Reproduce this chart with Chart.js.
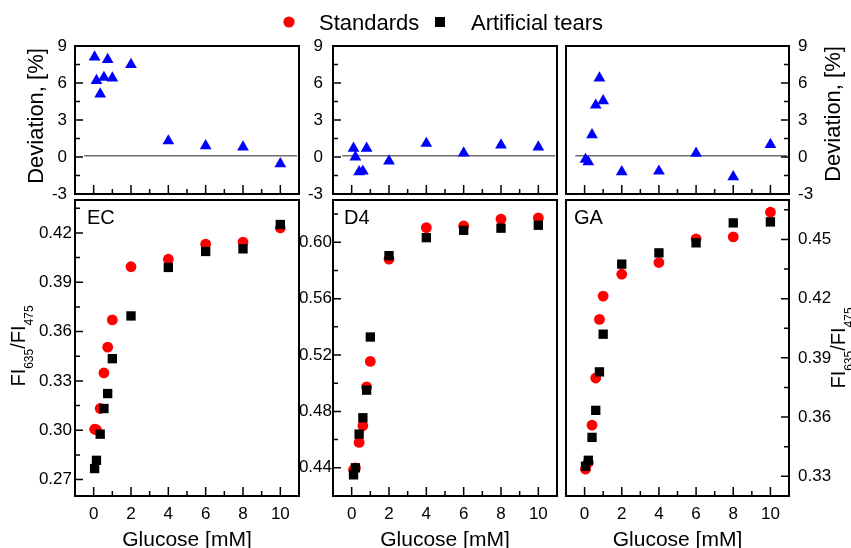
<!DOCTYPE html>
<html>
<head>
<meta charset="utf-8">
<title>Glucose calibration: EC, D4, GA</title>
<script src="https://cdn.jsdelivr.net/npm/chart.js@4.4.1/dist/chart.umd.min.js"></script>
<style>
  html, body { margin: 0; padding: 0; background: #fff; }
  #wrap { position: relative; width: 851px; height: 548px; overflow: hidden; }
  #wrap canvas { position: absolute; left: 0; top: 0; }
</style>
</head>
<body>
<div id="wrap">
  <canvas id="ecDev" width="851" height="548"></canvas>
  <canvas id="d4Dev" width="851" height="548"></canvas>
  <canvas id="gaDev" width="851" height="548"></canvas>
  <canvas id="ecFi" width="851" height="548"></canvas>
  <canvas id="d4Fi" width="851" height="548"></canvas>
  <canvas id="gaFi" width="851" height="548"></canvas>
</div>
<script>
const FONT = '"Liberation Sans", Arial, Helvetica, sans-serif';
const RED = "#ff0000", BLUE = "#0000ff", BLACK = "#000000", ZERO_GREY = "#6e6e6e";

// glucose concentrations [mM], read per panel
const X_EC = [0.05, 0.15, 0.35, 0.55, 0.75, 1, 2, 4, 6, 8, 10];
const X_D4 = [0.1, 0.2, 0.4, 0.6, 0.8, 1, 2, 4, 6, 8, 10];
const X_GA = [0.05, 0.2, 0.4, 0.6, 0.8, 1, 2, 4, 6, 8, 10];

// deviation [%]
const DEV_EC = [8.1, 6.2, 5.1, 6.45, 7.9, 6.4, 7.5, 1.3, 0.9, 0.8, -0.55];
const DEV_D4 = [0.7, 0.0, -1.2, -1.15, 0.7, -3.4, -0.33, 1.1, 0.32, 0.96, 0.8];
const DEV_GA = [-0.2, -0.4, 1.8, 4.2, 6.4, 4.55, -1.2, -1.15, 0.3, -1.6, 1.0];

// FI635/FI475
const STD_EC = [0.3006, 0.3003, 0.3132, 0.3349, 0.3505, 0.3671, 0.3994, 0.4040, 0.4132, 0.4144, 0.4230];
const AT_EC  = [0.2767, 0.2817, 0.2976, 0.3132, 0.3223, 0.3435, 0.3695, 0.3990, 0.4087, 0.4103, 0.4251];
const STD_D4 = [0.4386, 0.4400, 0.4580, 0.4698, 0.4974, 0.5155, 0.5881, 0.6104, 0.6116, 0.6164, 0.6173];
const AT_D4  = [0.4350, 0.4400, 0.4639, 0.4755, 0.4951, 0.5328, 0.5905, 0.6033, 0.6085, 0.6100, 0.6121];
const STD_GA = [0.3336, 0.3370, 0.3559, 0.3798, 0.4095, 0.4213, 0.4324, 0.4383, 0.4503, 0.4513, 0.4638];
const AT_GA  = [0.3351, 0.3381, 0.3497, 0.3634, 0.3829, 0.4020, 0.4375, 0.4432, 0.4483, 0.4584, 0.4589];

// axes
const X_TICKS = [0, 2, 4, 6, 8, 10];
const DEV_TICKS = [-3, 0, 3, 6, 9];
const EC_TICKS = [0.27, 0.30, 0.33, 0.36, 0.39, 0.42];
const D4_TICKS = [0.44, 0.48, 0.52, 0.56, 0.60];
const GA_TICKS = [0.33, 0.36, 0.39, 0.42, 0.45];
const ZERO_X = [-0.5, 10.9];
const ZERO_Y = 0.1;

const W = 851, H = 548;
const Y_AXIS_W = 60, X_AXIS_H = 30;   // fixed axis boxes so the plot areas land where we want
Chart.defaults.font.family = FONT;
Chart.defaults.color = "#000";

const pts = (xs, ys) => xs.map((x, i) => ({ x, y: ys[i] }));

// majors + halfway minors that fall strictly inside the axis range
function marks(majors, min, max) {
  const step = majors[1] - majors[0];
  const out = majors.map(v => [v, true]);
  for (let k = -1; k < majors.length; k++) {
    const v = majors[0] + (k + 0.5) * step;
    if (v > min + 1e-9 && v < max - 1e-9) out.push([v, false]);
  }
  return out;
}

function fiTitle(ctx, bx, cy) {
  const parts = [["FI", false], ["635", true], ["/FI", false], ["475", true]];
  const f = sub => (sub ? 12 : 20) + "px " + FONT;
  ctx.save();
  ctx.translate(bx, cy);
  ctx.rotate(-Math.PI / 2);
  let w = 0;
  parts.forEach(([t, sub]) => { ctx.font = f(sub); w += ctx.measureText(t).width; });
  let x = -w / 2;
  ctx.textAlign = "left"; ctx.textBaseline = "alphabetic";
  parts.forEach(([t, sub]) => {
    ctx.font = f(sub);
    ctx.fillText(t, x, sub ? 8 : 0);
    x += ctx.measureText(t).width;
  });
  ctx.restore();
}

function devTitle(ctx, bx, cy) {
  ctx.save();
  ctx.translate(bx, cy);
  ctx.rotate(-Math.PI / 2);
  ctx.font = "22px " + FONT;
  ctx.textAlign = "center"; ctx.textBaseline = "alphabetic";
  ctx.fillText("Deviation, [%]", 0, 0);
  ctx.restore();
}

// frame, inward ticks, panel tags, axis titles, legend
const deco = {
  id: "deco",
  afterDraw(chart, args, o) {
    const { ctx, chartArea: a, scales: { x, y } } = chart;
    ctx.save();
    ctx.strokeStyle = BLACK;
    ctx.lineWidth = 1.5;
    ctx.beginPath();
    for (const [v, major] of marks(X_TICKS, x.min, x.max)) {
      const px = x.getPixelForValue(v);
      ctx.moveTo(px, a.bottom); ctx.lineTo(px, a.bottom - (major ? 9 : 5));
    }
    const left = y.position === "left";
    const edge = left ? a.left : a.right, dir = left ? 1 : -1;
    for (const [v, major] of marks(y.ticks.map(t => t.value), y.min, y.max)) {
      const py = y.getPixelForValue(v);
      ctx.moveTo(edge, py); ctx.lineTo(edge + dir * (major ? 8 : 5), py);
    }
    ctx.stroke();
    ctx.lineWidth = 2;
    ctx.strokeRect(a.left, a.top, a.width, a.height);

    ctx.fillStyle = BLACK;
    if (o.tag) {
      ctx.font = "20px " + FONT;
      ctx.textAlign = "left"; ctx.textBaseline = "alphabetic";
      ctx.fillText(o.tag, a.left + o.tagDx, a.top + 24);
    }
    if (o.xTitle) {
      ctx.font = "21px " + FONT;
      ctx.textAlign = "center"; ctx.textBaseline = "alphabetic";
      ctx.fillText("Glucose [mM]", (a.left + a.right) / 2, 546);
    }
    if (o.yTitle) {
      const bx = left ? a.left - o.yTitle.off : a.right + o.yTitle.off;
      const cy = a.top + o.yTitle.dy;
      if (o.yTitle.kind === "dev") devTitle(ctx, bx, cy); else fiTitle(ctx, bx, cy);
    }
    if (o.legend) {
      ctx.font = "22px " + FONT;
      ctx.textAlign = "left"; ctx.textBaseline = "alphabetic";
      ctx.fillStyle = RED;
      ctx.beginPath(); ctx.arc(289, 22, 5.6, 0, Math.PI * 2); ctx.fill();
      ctx.fillStyle = BLACK;
      ctx.fillText("Standards", 319, 30);
      ctx.fillRect(435, 17, 10, 10);
      ctx.fillText("Artificial tears", 471, 30);
    }
    ctx.restore();
  }
};

function panel(id, cfg) {
  const [l, t, r, b] = cfg.area;
  const leftAx = cfg.ySide === "left";
  return new Chart(document.getElementById(id), {
    type: "scatter",
    data: { datasets: cfg.datasets },
    options: {
      responsive: false, animation: false, events: [],
      layout: { padding: {
        left: leftAx ? l - Y_AXIS_W : l,
        right: leftAx ? W - r : W - r - Y_AXIS_W,
        top: t,
        bottom: H - b - X_AXIS_H
      } },
      plugins: { legend: { display: false }, tooltip: { enabled: false }, deco: cfg.deco },
      scales: {
        x: {
          type: "linear", position: "bottom", min: -1, max: 11,
          grid: { display: false, drawTicks: false }, border: { display: false },
          ticks: { display: cfg.xLabels, padding: 8, font: { size: 17 }, color: BLACK, callback: v => String(v) },
          afterBuildTicks: s => { s.ticks = X_TICKS.map(value => ({ value })); },
          afterFit: s => { s.height = X_AXIS_H; }
        },
        y: {
          type: "linear", position: cfg.ySide, min: cfg.yMin, max: cfg.yMax,
          grid: { display: false, drawTicks: false }, border: { display: false },
          ticks: { padding: cfg.yPad, font: { size: 17 }, color: BLACK, callback: cfg.fmt },
          afterBuildTicks: s => { s.ticks = cfg.yTicks.map(value => ({ value })); },
          afterFit: s => { s.width = Y_AXIS_W; }
        }
      }
    },
    plugins: [deco]
  });
}

function devSets(xs, ys) {
  return [
    { data: pts(xs, ys), pointStyle: "triangle", pointRadius: 6.8, backgroundColor: BLUE, borderWidth: 0, clip: 0, order: 1 },
    { data: ZERO_X.map(x => ({ x, y: ZERO_Y })), showLine: true, borderColor: ZERO_GREY, borderWidth: 1.5, pointRadius: 0, order: 2 }
  ];
}

function fiSets(xs, std, at) {
  return [
    { label: "Artificial tears", data: pts(xs, at), pointStyle: "rect", pointRadius: 6.6, backgroundColor: BLACK, borderWidth: 0, order: 1 },
    { label: "Standards", data: pts(xs, std), pointStyle: "circle", pointRadius: 5.4, backgroundColor: RED, borderWidth: 0, order: 2 }
  ];
}

const devFmt = v => String(v);
const fiFmt = v => v.toFixed(2);

panel("ecDev", {
  area: [75, 46, 299, 194], ySide: "left", yMin: -3, yMax: 9, yTicks: DEV_TICKS, yPad: 8, fmt: devFmt, xLabels: false,
  datasets: devSets(X_EC, DEV_EC),
  deco: { yTitle: { kind: "dev", off: 32, dy: 70 }, legend: true }
});
panel("d4Dev", {
  area: [333, 46, 557, 194], ySide: "left", yMin: -3, yMax: 9, yTicks: DEV_TICKS, yPad: 10, fmt: devFmt, xLabels: false,
  datasets: devSets(X_D4, DEV_D4),
  deco: {}
});
panel("gaDev", {
  area: [566, 46, 789, 194], ySide: "right", yMin: -3, yMax: 9, yTicks: DEV_TICKS, yPad: 9, fmt: devFmt, xLabels: false,
  datasets: devSets(X_GA, DEV_GA),
  deco: { yTitle: { kind: "dev", off: 51, dy: 68 } }
});
panel("ecFi", {
  area: [75, 200, 299, 496], ySide: "left", yMin: 0.26, yMax: 0.44, yTicks: EC_TICKS, yPad: 3, fmt: fiFmt, xLabels: true,
  datasets: fiSets(X_EC, STD_EC, AT_EC),
  deco: { tag: "EC", tagDx: 12, xTitle: true, yTitle: { kind: "fi", off: 50, dy: 146 } }
});
panel("d4Fi", {
  area: [333, 200, 557, 496], ySide: "left", yMin: 0.42, yMax: 0.63, yTicks: D4_TICKS, yPad: 1, fmt: fiFmt, xLabels: true,
  datasets: fiSets(X_D4, STD_D4, AT_D4),
  deco: { tag: "D4", tagDx: 11, xTitle: true }
});
panel("gaFi", {
  area: [566, 200, 789, 496], ySide: "right", yMin: 0.32, yMax: 0.47, yTicks: GA_TICKS, yPad: 9, fmt: fiFmt, xLabels: true,
  datasets: fiSets(X_GA, STD_GA, AT_GA),
  deco: { tag: "GA", tagDx: 8, xTitle: true, yTitle: { kind: "fi", off: 56, dy: 148 } }
});
</script>
</body>
</html>
